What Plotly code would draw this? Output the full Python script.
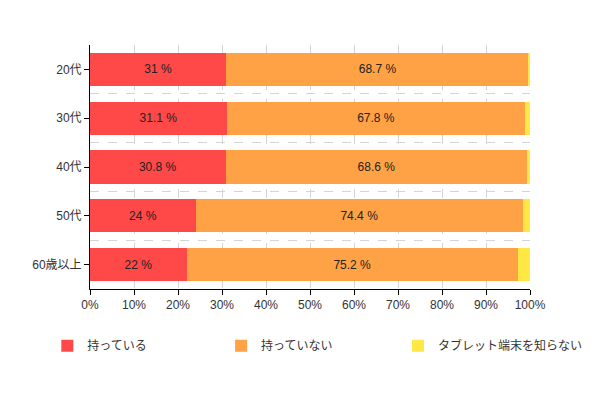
import plotly.graph_objects as go

categories = ["20代", "30代", "40代", "50代", "60歳以上"]
series_names = ["持っている", "持っていない", "タブレット端末を知らない"]
have = [31, 31.1, 30.8, 24, 22]
not_have = [68.7, 67.8, 68.6, 74.4, 75.2]
unknown = [0.3, 1.1, 0.6, 1.6, 2.8]
x_ticks = [0, 10, 20, 30, 40, 50, 60, 70, 80, 90, 100]

colors = ["#FF4848", "#FFA245", "#FFE744"]
ypos = list(range(len(categories)))
legend_ids = ["legend", "legend2", "legend3"]
legend_x = [-0.097, 0.298, 0.70]

fig = go.Figure()
for i, (name, vals, col, show) in enumerate([
    (series_names[0], have, colors[0], True),
    (series_names[1], not_have, colors[1], True),
    (series_names[2], unknown, colors[2], False),
]):
    fig.add_trace(go.Bar(
        y=ypos, x=vals, name=name, orientation="h",
        marker=dict(color=col, line=dict(width=0)),
        width=0.68,
        text=[f"{v:g} %" for v in vals] if show else None,
        textposition="inside" if show else "none",
        insidetextanchor="middle",
        textfont=dict(color="#222", size=12),
        hoverinfo="x+name",
        legend=legend_ids[i],
    ))

leg_common = dict(orientation="h", y=-0.173, xanchor="left", yanchor="top",
                  font=dict(size=12, color="#333"), itemwidth=30, bgcolor="rgba(0,0,0,0)")
fig.update_layout(
    barmode="stack",
    width=590, height=390,
    margin=dict(l=82, r=68, t=37, b=109, autoexpand=False),
    paper_bgcolor="white", plot_bgcolor="white",
    font=dict(family="Liberation Sans, Arial, Noto Sans CJK JP", size=12, color="#333"),
    showlegend=True,
    legend=dict(x=legend_x[0], **leg_common),
    legend2=dict(x=legend_x[1], **leg_common),
    legend3=dict(x=legend_x[2], **leg_common),
    uniformtext=dict(minsize=8, mode="show"),
)
fig.update_xaxes(
    range=[0, 100], tickvals=x_ticks, ticktext=[f"{t}%" for t in x_ticks],
    showline=True, linecolor="black", linewidth=1,
    ticks="outside", ticklen=5, tickcolor="black",
    showgrid=True, gridcolor="#d4d4d4", griddash="dash", gridwidth=1,
    zeroline=False, tickfont=dict(size=12, color="#333"), automargin=False,
)
fig.update_yaxes(
    range=[len(categories) - 0.5, -0.5],
    tickvals=ypos, ticktext=categories,
    showline=True, linecolor="black", linewidth=1,
    ticks="outside", ticklen=5, tickcolor="black",
    showgrid=False, zeroline=False, automargin=False,
    tickfont=dict(size=12, color="#333"),
    minor=dict(tickvals=[i - 0.5 for i in range(len(categories) + 1)],
               showgrid=True, gridcolor="#d4d4d4", griddash="dash", gridwidth=1,
               ticks=""),
)

fig.write_html("out.html")
